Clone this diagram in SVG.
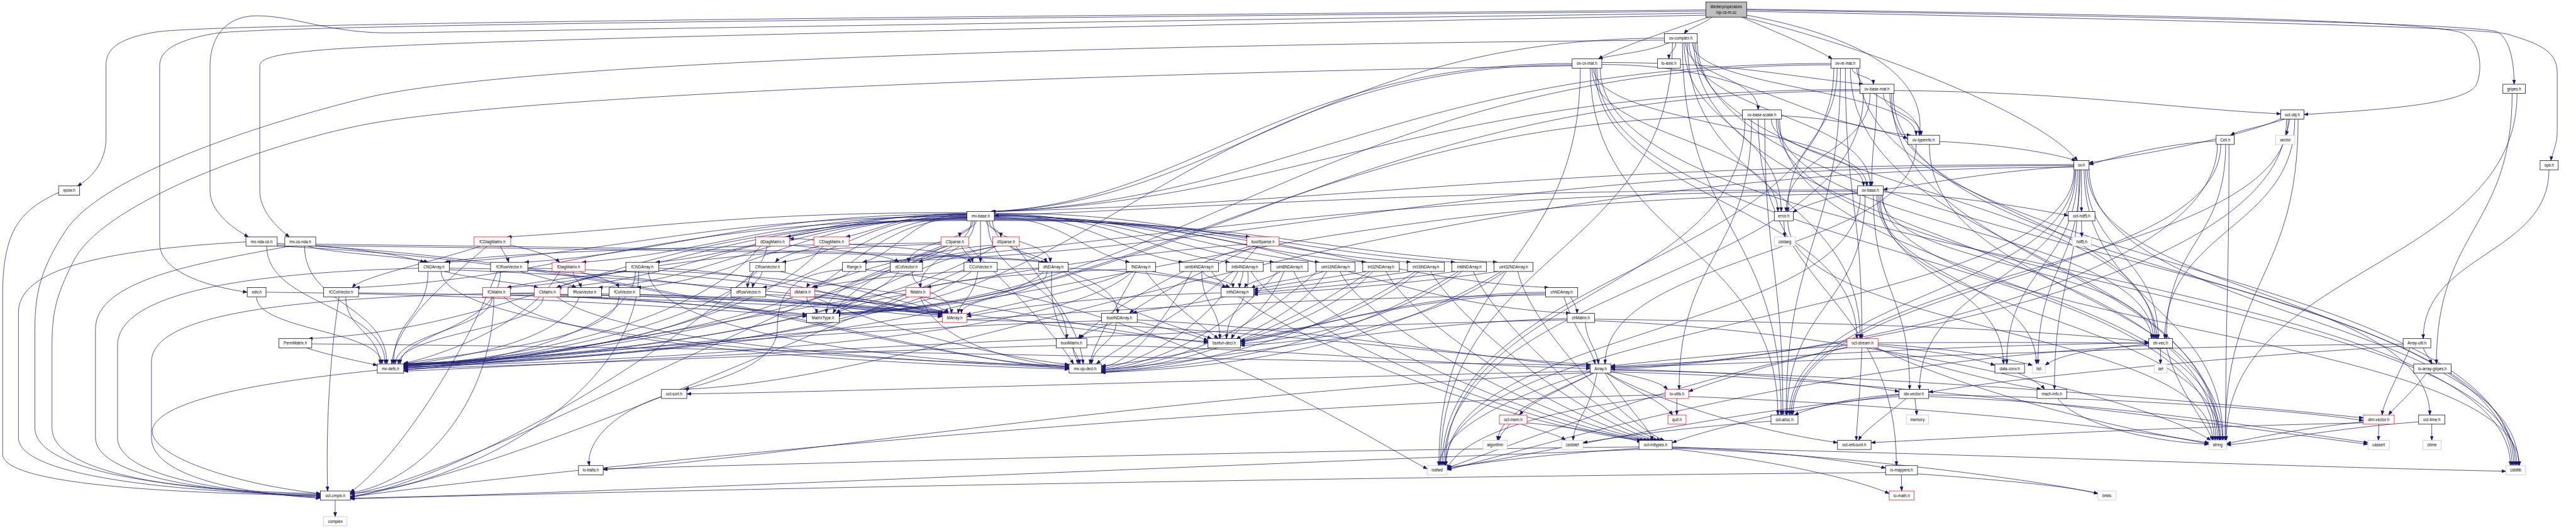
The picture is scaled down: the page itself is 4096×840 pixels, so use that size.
<svg xmlns="http://www.w3.org/2000/svg" width="4096" height="840" viewBox="0 0 4096 840">
<defs>
<style>
.e path{fill:none;stroke:#191970;stroke-width:1.4;marker-end:url(#ah)}
.n rect{fill:#fff;stroke:#000;stroke-width:1.4}
.r rect{stroke:#ff0000}
.g rect{stroke:#bfbfbf}
.root rect{fill:#bfbfbf}
text{font-family:"Liberation Sans",Arial,Helvetica,sans-serif;font-size:12px;text-anchor:middle;fill:#000}
</style>
<marker id="ah" markerUnits="userSpaceOnUse" markerWidth="13" markerHeight="10" viewBox="0 0 13 10" refX="13" refY="5" orient="auto"><path d="M0,0 L13,5 L0,10 z" fill="#191970" stroke="#191970"/></marker>
</defs>
<rect width="4096" height="840" fill="#fff"/>
<g transform="scale(0.523517)">
<g id="connectors" class="e">
<path d="M5181,30 C3000,50 600,70 470,98 C340,120 322,160 322,200 L322,420 C322,490 280,540 235,565"/>
<path d="M5181,34 C3000,55 800,75 650,102 C520,125 485,160 485,200 L485,740 C485,800 560,860 751,888"/>
<path d="M5181,40 C3000,70 1500,95 1200,100 C1000,103 900,48 780,48 C680,48 638,120 638,200 L638,580 C638,640 700,690 755,720"/>
<path d="M5181,46 C3500,80 1500,115 1000,150 C850,162 789,175 789,200 L789,580 C789,640 840,690 879,720"/>
<path d="M5200,52 C5170,75 5130,85 5115,102"/>
<path d="M5190,52 C5050,100 4900,150 4855,179"/>
<path d="M5290,52 C5400,100 5520,150 5565,179"/>
<path d="M5300,45 C5700,120 5850,250 5830,411"/>
<path d="M5295,52 C5700,150 6200,350 6310,488"/>
<path d="M5305,30 C6500,50 7450,70 7580,95 C7620,110 7636,180 7636,256"/>
<path d="M5305,28 C6500,45 7350,60 7480,100 C7540,130 7540,220 7520,260 C7480,320 7200,335 6998,348"/>
<path d="M5305,34 C6500,60 7550,80 7620,105 C7700,130 7767,150 7767,220 L7767,400 C7767,440 7750,470 7748,488"/>
<path d="M5090,130 C5090,155 5069,155 5069,179"/>
<path d="M5070,130 C5000,160 4900,165 4855,179"/>
<path d="M5055,116 C4032,116 3726,613 3010,643"/>
<path d="M5130,130 C5130,347 5681,347 5681,565"/>
<path d="M5120,130 C5120,232 5340,232 5340,334"/>
<path d="M5140,130 C5140,270 5820,270 5820,411"/>
<path d="M5110,130 C5110,695 5410,695 5410,1261"/>
<path d="M5150,130 C5150,580 6550,580 6550,1029"/>
<path d="M5115,130 C5115,386 5410,386 5410,643"/>
<path d="M5125,130 C5125,580 5650,580 5650,1029"/>
<path d="M5080,130 C5080,772 4375,772 4375,1415"/>
<path d="M5145,130 C5145,734 6730,734 6730,1338"/>
<path d="M5155,125 C5155,772 7630,772 7630,1415"/>
<path d="M5055,122 C3000,140 1500,200 1100,300 C700,400 300,550 200,700 C120,820 106,900 106,1000 L106,1300 C106,1430 500,1490 973,1500"/>
<path d="M4775,193 C3892,193 3628,613 3010,643"/>
<path d="M4775,197 C3657,197 3322,922 2539,952"/>
<path d="M4865,190 C5262,190 5381,226 5659,256"/>
<path d="M4840,207 C4840,386 5670,386 5670,565"/>
<path d="M4865,196 C5334,196 5475,381 5804,411"/>
<path d="M4830,207 C4830,734 5400,734 5400,1261"/>
<path d="M4835,207 C4835,425 5400,425 5400,643"/>
<path d="M4845,207 C4845,618 5640,618 5640,1029"/>
<path d="M4800,207 C4800,811 4370,811 4370,1415"/>
<path d="M4850,207 C4850,772 6725,772 6725,1338"/>
<path d="M4860,207 C4860,811 7625,811 7625,1415"/>
<path d="M4775,200 C3000,230 1500,300 1100,380 C800,440 300,620 220,800 C170,900 158,950 158,1050 L158,1300 C158,1440 550,1495 973,1503"/>
<path d="M5625,207 C5625,232 5690,232 5690,256"/>
<path d="M5640,207 C5640,309 5830,309 5830,411"/>
<path d="M5561,193 C4286,193 3903,613 3010,643"/>
<path d="M5561,197 C4050,197 3597,922 2539,952"/>
<path d="M5590,207 C5590,734 5425,734 5425,1261"/>
<path d="M5580,207 C5580,425 5430,425 5430,643"/>
<path d="M5605,207 C5605,618 5655,618 5655,1029"/>
<path d="M5570,207 C5570,811 4380,811 4380,1415"/>
<path d="M5620,207 C5620,772 6735,772 6735,1338"/>
<path d="M5645,207 C5645,811 7635,811 7635,1415"/>
<path d="M5720,284 C5720,347 5835,347 5835,411"/>
<path d="M5700,284 C5700,424 5685,424 5685,565"/>
<path d="M5680,284 C5680,463 5425,463 5425,643"/>
<path d="M5753,275 C6300,280 6600,330 6927,346"/>
<path d="M5649,272 C4330,272 3934,613 3010,643"/>
<path d="M5649,276 C4100,276 3600,922 2539,952"/>
<path d="M5740,284 C5740,656 6545,656 6545,1029"/>
<path d="M5660,284 C5660,850 4385,850 4385,1415"/>
<path d="M5745,284 C5745,811 6740,811 6740,1338"/>
<path d="M5750,284 C5750,850 7640,850 7640,1415"/>
<path d="M5411,352 C5600,360 5700,395 5794,420"/>
<path d="M5380,362 C5380,463 5660,463 5660,565"/>
<path d="M5340,362 C5340,888 5760,888 5760,1415"/>
<path d="M5320,362 C5320,772 5100,772 5100,1183"/>
<path d="M5360,362 C5360,811 5415,811 5415,1261"/>
<path d="M5400,362 C5400,695 6540,695 6540,1029"/>
<path d="M5292,352 C4000,360 3500,922 2539,955"/>
<path d="M5300,362 C5300,888 4390,888 4390,1415"/>
<path d="M5405,362 C5405,850 6745,850 6745,1338"/>
<path d="M5395,362 C5395,888 7645,888 7645,1415"/>
<path d="M5891,430 C6100,440 6250,470 6305,488"/>
<path d="M5820,439 C5820,772 4875,772 4875,1106"/>
<path d="M5860,439 C5860,888 6750,888 6750,1338"/>
<path d="M6299,505 C6050,520 5850,560 5720,576"/>
<path d="M6322,516 C6322,580 6322,580 6322,643"/>
<path d="M6299,500 C4655,500 4161,613 3010,643"/>
<path d="M6299,503 C4450,503 3850,767 2620,797"/>
<path d="M6310,516 C6310,811 6095,811 6095,1106"/>
<path d="M6305,516 C6305,850 5830,850 5830,1183"/>
<path d="M6315,516 C6315,850 6240,850 6240,1183"/>
<path d="M6302,516 C6302,888 5435,888 5435,1261"/>
<path d="M6340,516 C6340,888 7380,888 7380,1261"/>
<path d="M6335,516 C6335,772 6555,772 6555,1029"/>
<path d="M6318,516 C6318,811 6190,811 6190,1106"/>
<path d="M6299,508 C4200,508 2900,1153 2076,1183"/>
<path d="M6300,516 C6300,965 4390,965 4390,1415"/>
<path d="M6330,516 C6330,927 6752,927 6752,1338"/>
<path d="M6345,512 C6345,965 7650,965 7650,1415"/>
<path d="M5642,585 C5550,600 5480,625 5445,645"/>
<path d="M5720,583 C6000,600 6200,640 6282,655"/>
<path d="M5642,581 C4100,581 3300,767 2620,797"/>
<path d="M5642,577 C4300,577 3700,630 3020,655"/>
<path d="M5642,589 C4000,600 3300,922 2539,958"/>
<path d="M5710,593 C5710,850 6085,850 6085,1106"/>
<path d="M5690,593 C5690,888 5800,888 5800,1183"/>
<path d="M5715,593 C5715,811 6535,811 6535,1029"/>
<path d="M5705,593 C5705,850 6185,850 6185,1106"/>
<path d="M5665,593 C5665,927 5428,927 5428,1261"/>
<path d="M5650,593 C5650,1004 4392,1004 4392,1415"/>
<path d="M5700,593 C5700,965 6742,965 6742,1338"/>
<path d="M5718,593 C5718,1004 7652,1004 7652,1415"/>
<path d="M5418,671 L5421,720"/>
<path d="M5430,671 C5430,1004 6720,1004 6720,1338"/>
<path d="M6322,671 L6323,720"/>
<path d="M6940,362 C6870,385 6800,395 6775,411"/>
<path d="M6955,362 L6944,411"/>
<path d="M6930,360 C6800,420 6500,470 6345,495"/>
<path d="M6970,362 C6970,695 6575,695 6575,1029"/>
<path d="M6950,362 C6950,811 5440,811 5440,1261"/>
<path d="M6945,362 C6945,900 5300,1110 4893,1118"/>
<path d="M6980,362 C6980,850 6758,850 6758,1338"/>
<path d="M6731,428 C6550,440 6420,480 6345,500"/>
<path d="M6735,439 C6735,900 5300,1115 4893,1122"/>
<path d="M6745,439 C6745,850 5445,850 5445,1261"/>
<path d="M6760,439 C6760,734 6580,734 6580,1029"/>
<path d="M6770,439 C6770,888 6760,888 6760,1338"/>
<path d="M7630,284 C7630,695 7400,695 7400,1106"/>
<path d="M7645,284 C7645,811 6762,811 6762,1338"/>
<path d="M7742,516 C7742,772 7360,772 7360,1029"/>
<path d="M178,585 C60,640 8,700 8,900 L8,1380 C8,1480 600,1500 973,1506"/>
<path d="M779,902 C779,1004 1160,1004 1160,1106"/>
<path d="M808,888 C1500,895 2100,935 2450,962"/>
<path d="M842,740 C1050,750 1200,770 1290,797"/>
<path d="M842,745 C2000,760 2900,770 3175,797"/>
<path d="M747,735 C300,760 56,820 56,950 L56,1330 C56,1450 550,1495 973,1506"/>
<path d="M842,748 C2000,800 2700,1090 3247,1115"/>
<path d="M810,748 C810,927 1170,927 1170,1106"/>
<path d="M935,748 C1000,770 1250,780 1300,797"/>
<path d="M959,742 C2000,755 2950,765 3185,797"/>
<path d="M880,748 C600,800 290,850 290,1000 L290,1330 C290,1440 600,1495 973,1509"/>
<path d="M959,748 C2000,810 2800,1095 3247,1120"/>
<path d="M925,748 C925,927 1175,927 1175,1106"/>
<path d="M2950,671 C2950,811 2510,811 2510,952"/>
<path d="M2937,662 C2687,662 2560,844 2465,874"/>
<path d="M2960,671 C2960,772 2795,772 2795,874"/>
<path d="M2937,664 C2315,664 2128,844 1692,874"/>
<path d="M2937,666 C2239,666 2029,844 1540,874"/>
<path d="M3000,671 C3000,850 3240,850 3240,1029"/>
<path d="M3020,664 C3895,664 4158,922 4770,952"/>
<path d="M2955,671 C2955,734 2760,734 2760,797"/>
<path d="M2937,660 C2436,660 2285,844 1934,874"/>
<path d="M2978,671 L2978,797"/>
<path d="M2937,668 C2008,668 1729,844 1079,874"/>
<path d="M2937,660 C2627,660 2533,844 2316,874"/>
<path d="M2937,662 C2377,662 2209,844 1817,874"/>
<path d="M2937,654 C2656,654 2572,767 2375,797"/>
<path d="M2937,650 C2265,650 2063,767 1593,797"/>
<path d="M2937,652 C2663,652 2580,690 2388,720"/>
<path d="M2937,656 C2352,656 2176,767 1767,797"/>
<path d="M2937,648 C2753,648 2698,690 2569,720"/>
<path d="M2937,646 C2239,646 2030,690 1541,720"/>
<path d="M2937,670 C1917,670 1611,999 937,1029"/>
<path d="M3005,671 C3005,734 3190,734 3190,797"/>
<path d="M3020,660 C3225,660 3287,767 3431,797"/>
<path d="M2937,658 C2146,658 1909,767 1355,797"/>
<path d="M2937,652 C2464,652 2322,767 1991,797"/>
<path d="M3015,671 C3015,811 3395,811 3395,952"/>
<path d="M3020,662 C3862,662 4115,844 4704,874"/>
<path d="M3020,652 C3306,652 3393,767 3593,797"/>
<path d="M3020,650 C3377,650 3485,767 3735,797"/>
<path d="M3020,654 C3445,654 3572,767 3870,797"/>
<path d="M3020,656 C3513,656 3662,767 4007,797"/>
<path d="M3020,658 C3584,658 3754,767 4149,797"/>
<path d="M3020,666 C3652,666 3842,767 4285,797"/>
<path d="M3020,668 C3720,668 3930,767 4420,797"/>
<path d="M3020,670 C3784,670 4013,767 4548,797"/>
<path d="M3020,648 C3408,648 3525,690 3797,720"/>
<path d="M2995,671 C2995,695 3040,695 3040,720"/>
<path d="M2965,671 C2965,695 2915,695 2915,720"/>
<path d="M2937,650 C2778,650 2731,767 2620,797"/>
<path d="M1365,815 C2100,820 2500,950 2862,962"/>
<path d="M1350,825 C1450,850 1580,860 1635,874"/>
<path d="M1300,825 C1300,965 1195,965 1195,1106"/>
<path d="M1340,825 C1340,1000 2500,1100 3247,1110"/>
<path d="M1365,820 C2500,860 3200,1010 3669,1038"/>
<path d="M1271,815 C700,830 357,900 357,1050 L357,1330 C357,1440 650,1495 973,1512"/>
<path d="M2001,815 C2400,830 2650,945 2862,958"/>
<path d="M1910,825 C1750,840 1600,860 1540,874"/>
<path d="M1930,825 C1930,1000 1500,1110 1226,1118"/>
<path d="M1970,825 C1970,1000 2700,1100 3247,1114"/>
<path d="M2001,822 C2800,860 3300,1010 3669,1041"/>
<path d="M1940,825 C1940,1200 1400,1480 1064,1500"/>
<path d="M3244,815 C3500,825 3650,850 3725,874"/>
<path d="M3180,825 C3180,900 2920,900 2920,952"/>
<path d="M3155,815 C2800,825 2600,850 2470,874"/>
<path d="M3170,825 C3000,1000 1700,1100 1226,1116"/>
<path d="M3195,825 C3180,1000 3270,1050 3280,1106"/>
<path d="M3230,825 C3400,950 3600,1000 3680,1029"/>
<path d="M3500,825 C3600,845 3700,855 3735,874"/>
<path d="M3430,825 C3300,880 3050,930 2935,956"/>
<path d="M3421,818 C3100,830 2900,850 2815,874"/>
<path d="M3440,825 C3200,1050 1800,1100 1226,1114"/>
<path d="M3450,825 C3380,950 3320,1050 3310,1106"/>
<path d="M3480,825 C3550,920 3650,990 3700,1029"/>
<path d="M3655,825 C3655,850 3745,850 3745,874"/>
<path d="M3620,825 C3550,950 3450,1100 3345,1116"/>
<path d="M3680,825 C3800,1000 4600,1300 4985,1338"/>
<path d="M3650,825 C3650,930 3705,930 3705,1029"/>
<path d="M3775,825 C3775,850 3765,850 3765,874"/>
<path d="M3760,825 C3700,950 3500,1100 3345,1120"/>
<path d="M3800,825 C3900,1000 4650,1300 4995,1338"/>
<path d="M3790,825 C3800,930 3730,930 3725,1029"/>
<path d="M3890,825 C3850,850 3790,855 3780,874"/>
<path d="M3880,825 C3750,980 3550,1100 3345,1124"/>
<path d="M3930,825 C4000,1000 4700,1300 5005,1338"/>
<path d="M3900,825 C3850,950 3760,990 3740,1029"/>
<path d="M4020,825 C3950,850 3830,860 3800,876"/>
<path d="M4000,825 C3800,1000 3600,1100 3345,1127"/>
<path d="M4070,825 C4150,1000 4750,1300 5015,1338"/>
<path d="M4030,825 C3950,950 3800,1000 3755,1031"/>
<path d="M4150,825 C4000,850 3850,870 3808,880"/>
<path d="M4160,825 C3900,1000 3650,1100 3345,1130"/>
<path d="M4210,825 C4300,1000 4800,1300 5025,1338"/>
<path d="M4170,825 C4050,950 3850,1010 3768,1036"/>
<path d="M4290,825 C4100,850 3900,875 3808,885"/>
<path d="M4300,825 C4000,1020 3700,1100 3345,1133"/>
<path d="M4345,825 C4450,1000 4850,1300 5035,1338"/>
<path d="M4310,825 C4150,960 3900,1020 3768,1040"/>
<path d="M4420,825 C4200,855 3950,880 3808,890"/>
<path d="M4430,825 C4100,1030 3750,1110 3345,1130"/>
<path d="M4475,825 C4550,1000 4900,1300 5045,1338"/>
<path d="M4440,825 C4250,970 3950,1030 3768,1045"/>
<path d="M4550,825 C4300,860 4000,885 3808,895"/>
<path d="M4560,825 C4200,1040 3800,1115 3345,1132"/>
<path d="M4610,825 C4650,1000 4950,1300 5055,1338"/>
<path d="M4570,825 C4350,980 4000,1040 3768,1050"/>
<path d="M3709,890 C3300,900 3050,940 2937,962"/>
<path d="M3720,902 C3600,930 3480,940 3440,952"/>
<path d="M3454,972 C4000,1000 4500,1090 4830,1115"/>
<path d="M3346,975 C2500,1000 1600,1090 1226,1112"/>
<path d="M3390,980 C3390,1040 3320,1050 3315,1106"/>
<path d="M3380,980 C3340,1000 3290,1010 3275,1029"/>
<path d="M3454,978 C3550,1000 3620,1015 3669,1035"/>
<path d="M3301,1048 C3900,1060 4400,1110 4830,1120"/>
<path d="M3208,1050 C2500,1070 1700,1110 1226,1120"/>
<path d="M3260,1057 C3260,1080 3270,1085 3275,1106"/>
<path d="M4750,902 C4780,1000 4830,1050 4845,1106"/>
<path d="M4770,902 C4780,920 4790,935 4790,952"/>
<path d="M4694,896 C3000,920 1800,1080 1226,1125"/>
<path d="M4694,892 C4200,900 3700,1080 3345,1112"/>
<path d="M4694,888 C4300,890 3950,1010 3768,1038"/>
<path d="M4815,980 C4820,1040 4850,1060 4855,1106"/>
<path d="M4760,972 C3500,1000 1900,1100 1226,1128"/>
<path d="M4760,968 C4200,980 3700,1100 3345,1123"/>
<path d="M4843,970 C5600,980 6200,1000 6526,1040"/>
<path d="M4843,975 C5600,1000 6500,1200 6715,1338"/>
<path d="M2475,895 C2650,910 2800,935 2870,952"/>
<path d="M2450,902 C2450,930 2480,930 2480,952"/>
<path d="M2410,902 C2200,1000 1600,1090 1226,1108"/>
<path d="M2470,902 C2700,1000 3000,1080 3247,1108"/>
<path d="M2800,902 C2820,930 2870,935 2880,952"/>
<path d="M2751,895 C2650,910 2560,940 2540,952"/>
<path d="M2760,902 C2400,1050 1700,1100 1226,1110"/>
<path d="M2795,902 C2850,1050 3100,1100 3247,1116"/>
<path d="M1702,895 C2300,905 2700,940 2862,958"/>
<path d="M1702,898 C2000,910 2300,945 2450,958"/>
<path d="M1650,902 C1650,1000 1215,1010 1210,1106"/>
<path d="M1690,902 C1900,1050 2800,1100 3247,1118"/>
<path d="M1623,890 C900,900 460,950 460,1100 L460,1330 C460,1440 700,1497 973,1514"/>
<path d="M1550,892 C2200,900 2700,935 2862,954"/>
<path d="M1550,896 C1900,905 2300,940 2450,955"/>
<path d="M1495,902 C1495,1000 1205,1010 1200,1106"/>
<path d="M1530,902 C1700,1060 2700,1105 3247,1122"/>
<path d="M1500,902 C1500,1200 1300,1460 1064,1498"/>
<path d="M2770,825 C2770,890 2890,890 2890,952"/>
<path d="M2730,825 C2600,1000 1700,1090 1226,1106"/>
<path d="M1944,895 C2400,905 2750,940 2862,950"/>
<path d="M1880,902 C1880,1050 1300,1080 1226,1108"/>
<path d="M2970,825 C2960,900 2915,920 2910,952"/>
<path d="M2950,825 C2700,1020 1800,1095 1226,1108"/>
<path d="M2928,820 C2500,1000 1500,1450 1064,1508"/>
<path d="M1089,890 C2000,900 2600,940 2862,952"/>
<path d="M1050,902 C1050,1000 1150,1010 1155,1106"/>
<path d="M1030,902 C1000,1100 990,1300 995,1492"/>
<path d="M2326,895 C2600,905 2800,940 2862,955"/>
<path d="M2250,902 C2000,1050 1500,1100 1226,1112"/>
<path d="M1827,893 C2300,903 2700,938 2862,953"/>
<path d="M1760,902 C1700,1050 1350,1090 1226,1110"/>
<path d="M2315,825 C2310,850 2290,855 2285,874"/>
<path d="M2370,825 C2600,880 2800,930 2880,952"/>
<path d="M2300,825 C2100,1000 1600,1090 1226,1114"/>
<path d="M2290,825 C2000,1100 1400,1450 1064,1512"/>
<path d="M1580,825 C1650,845 1720,860 1750,874"/>
<path d="M1603,815 C2300,825 2700,930 2870,952"/>
<path d="M1520,825 C1520,1000 1220,1010 1215,1106"/>
<path d="M1510,825 C1400,1100 1200,1400 1064,1496"/>
<path d="M2330,748 C2320,810 2275,820 2270,874"/>
<path d="M2398,745 C2550,760 2700,775 2730,797"/>
<path d="M2310,748 C2100,1000 1500,1100 1226,1110"/>
<path d="M1740,825 C1745,850 1760,855 1765,874"/>
<path d="M1760,825 C1820,845 1870,855 1880,874"/>
<path d="M1700,825 C1600,1000 1300,1090 1226,1104"/>
<path d="M2490,748 C2420,765 2370,780 2355,797"/>
<path d="M2579,742 C2800,755 2920,770 2950,797"/>
<path d="M2472,730 C2440,725 2420,725 2398,726"/>
<path d="M2500,748 C2300,1000 1600,1100 1226,1118"/>
<path d="M1520,748 C1530,770 1540,780 1545,797"/>
<path d="M1460,748 C1300,800 1100,840 1070,874"/>
<path d="M1551,745 C1620,760 1680,780 1700,797"/>
<path d="M1480,748 C1300,900 1200,1000 1190,1106"/>
<path d="M947,1045 C2500,1060 4000,1100 4830,1110"/>
<path d="M930,1057 C1000,1080 1100,1100 1146,1110"/>
<path d="M2580,825 C2570,850 2460,855 2450,874"/>
<path d="M2559,820 C2400,830 2361,900 2361,1000 C2361,1100 2200,1150 2080,1183"/>
<path d="M2630,820 C3500,900 4100,1300 4335,1425"/>
<path d="M3015,745 C2800,760 2550,840 2470,874"/>
<path d="M3070,748 C3100,770 3170,780 3180,797"/>
<path d="M3030,748 C2950,765 2830,780 2790,797"/>
<path d="M3020,748 C2800,800 2600,900 2540,952"/>
<path d="M3025,748 C2600,1000 1700,1100 1226,1106"/>
<path d="M3085,748 C3200,900 3280,1000 3290,1106"/>
<path d="M2858,742 C2200,760 1800,830 1690,874"/>
<path d="M2858,738 C2000,750 1500,770 1350,797"/>
<path d="M2920,748 C2930,770 2950,780 2955,797"/>
<path d="M2880,748 C2700,800 2560,900 2530,952"/>
<path d="M2870,748 C2400,1000 1600,1100 1226,1104"/>
<path d="M2860,748 C2200,1000 1400,1450 1064,1502"/>
<path d="M2940,748 C3100,900 3230,1050 3260,1106"/>
<path d="M3800,748 C3600,800 3350,950 3280,1029"/>
<path d="M3810,748 C3700,800 3500,900 3430,952"/>
<path d="M3787,742 C3000,800 1800,1080 1226,1124"/>
<path d="M3820,748 C3700,900 3400,1050 3330,1106"/>
<path d="M2937,972 C3800,990 4500,1090 4830,1108"/>
<path d="M1146,1125 C900,1150 500,1200 464,1300 C440,1380 700,1470 973,1500"/>
<path d="M4893,1130 C5800,1150 6800,1300 7192,1350"/>
<path d="M4850,1134 C4830,1250 4780,1280 4778,1338"/>
<path d="M4840,1134 C4700,1200 4560,1250 4548,1338"/>
<path d="M4830,1130 C4600,1200 4380,1300 4370,1415"/>
<path d="M4893,1125 C5800,1140 6800,1230 7178,1270"/>
<path d="M4893,1122 C5300,1130 5600,1160 5768,1190"/>
<path d="M4830,1132 C3500,1200 2300,1400 1832,1427"/>
<path d="M4893,1130 C4980,1145 5040,1160 5065,1183"/>
<path d="M4830,1128 C3800,1150 2600,1190 2086,1197"/>
<path d="M4880,1134 C4950,1180 5050,1220 5080,1261"/>
<path d="M4840,1134 C4750,1180 4650,1220 4615,1261"/>
<path d="M4880,1134 C5100,1250 5400,1320 5581,1345"/>
<path d="M4875,1134 C4950,1250 5010,1300 5020,1338"/>
<path d="M2009,1205 C1850,1260 1780,1350 1790,1415"/>
<path d="M5093,1211 L5093,1261"/>
<path d="M5058,1200 C3500,1230 1500,1450 1064,1510"/>
<path d="M5058,1205 C4800,1230 4450,1300 4395,1425"/>
<path d="M5129,1205 C5800,1230 6500,1300 6709,1350"/>
<path d="M4620,1289 C4680,1310 4730,1320 4755,1338"/>
<path d="M4585,1289 C4570,1310 4555,1320 4552,1338"/>
<path d="M4638,1285 C4800,1300 4950,1330 4985,1345"/>
<path d="M5079,1360 C6000,1380 7000,1420 7611,1432"/>
<path d="M5079,1362 C5600,1380 6200,1460 6372,1500"/>
<path d="M4978,1362 C4700,1380 4450,1410 4395,1425"/>
<path d="M4978,1358 C3800,1370 2400,1410 1832,1425"/>
<path d="M5079,1364 C5400,1400 5650,1460 5738,1500"/>
<path d="M4978,1366 C3500,1420 1800,1500 1064,1514"/>
<path d="M5079,1358 C5400,1370 5600,1400 5727,1422"/>
<path d="M5858,1205 C6500,1230 7000,1320 7192,1345"/>
<path d="M5768,1205 C5200,1250 4600,1400 4395,1420"/>
<path d="M5816,1211 L5822,1261"/>
<path d="M5858,1200 C6500,1210 7000,1250 7178,1278"/>
<path d="M5768,1200 C5500,1230 5200,1300 5079,1345"/>
<path d="M5768,1198 C5600,1210 5500,1240 5450,1261"/>
<path d="M5790,1211 C5720,1270 5660,1310 5645,1338"/>
<path d="M6130,1134 C6170,1150 6200,1170 6210,1183"/>
<path d="M6250,1211 C6300,1280 6500,1340 6709,1350"/>
<path d="M5775,1443 L5776,1492"/>
<path d="M5824,1440 C6100,1460 6300,1480 6372,1500"/>
<path d="M5727,1436 C4000,1450 2000,1490 1064,1516"/>
<path d="M7225,1289 L7224,1338"/>
<path d="M7178,1282 C7000,1300 6850,1330 6763,1348"/>
<path d="M7178,1285 C6500,1300 6000,1330 5683,1345"/>
<path d="M7386,1289 L7386,1338"/>
<path d="M7346,1282 C7100,1300 6900,1340 6763,1352"/>
<path d="M6562,1057 L6562,1106"/>
<path d="M6580,1057 C6620,1200 6700,1280 6720,1338"/>
<path d="M6526,1050 C5500,1100 4700,1350 4395,1428"/>
<path d="M6526,1046 C6350,1060 6250,1080 6212,1110"/>
<path d="M6526,1042 C5800,1050 5200,1100 4893,1114"/>
<path d="M7299,1046 C6500,1050 5500,1100 4893,1116"/>
<path d="M7320,1057 C7280,1150 7240,1220 7235,1261"/>
<path d="M7299,1052 C6800,1080 6100,1150 5858,1192"/>
<path d="M7360,1057 C7370,1080 7380,1090 7385,1106"/>
<path d="M7370,1134 C7320,1200 7270,1240 7255,1261"/>
<path d="M5704,1050 C5900,1070 6000,1090 6059,1110"/>
<path d="M5704,1046 C5950,1060 6100,1090 6173,1110"/>
<path d="M5690,1057 C5900,1120 6100,1170 6200,1183"/>
<path d="M5655,1057 C5650,1200 5640,1280 5638,1338"/>
<path d="M5610,1055 C5400,1100 5200,1160 5129,1190"/>
<path d="M5610,1050 C5300,1070 5000,1100 4893,1112"/>
<path d="M5704,1042 C6000,1040 6300,1040 6526,1043"/>
<path d="M5610,1057 C5100,1150 4600,1350 4395,1422"/>
<path d="M5700,1057 C6000,1200 6500,1320 6709,1345"/>
<path d="M1018,1520 L1018,1570"/>
<path d="M5379,1280 C5100,1300 4900,1330 4808,1345"/>
</g>
<g id="n-root" class="n root"><rect x="5181" y="6" width="124" height="46"/><text x="5243" y="24">libinterp/operators</text><text x="5243" y="42">/op-cs-m.cc</text></g>
<g id="n-ov-complex.h" class="n"><rect x="5055" y="102" width="100" height="28"/><text x="5105" y="120.5">ov-complex.h</text></g>
<g id="n-ov-cx-mat.h" class="n"><rect x="4775" y="179" width="90" height="28"/><text x="4820" y="197.5">ov-cx-mat.h</text></g>
<g id="n-lo-ieee.h" class="n"><rect x="5034" y="179" width="70" height="28"/><text x="5069" y="197.5">lo-ieee.h</text></g>
<g id="n-ov-re-mat.h" class="n"><rect x="5561" y="179" width="88" height="28"/><text x="5605" y="197.5">ov-re-mat.h</text></g>
<g id="n-ov-base-mat.h" class="n"><rect x="5649" y="256" width="104" height="28"/><text x="5701" y="274.5">ov-base-mat.h</text></g>
<g id="n-gripes.h" class="n"><rect x="7602" y="256" width="68" height="28"/><text x="7636" y="274.5">gripes.h</text></g>
<g id="n-ov-base-scalar.h" class="n"><rect x="5292" y="334" width="119" height="28"/><text x="5351.5" y="352.5">ov-base-scalar.h</text></g>
<g id="n-oct-obj.h" class="n"><rect x="6927" y="334" width="71" height="28"/><text x="6962.5" y="352.5">oct-obj.h</text></g>
<g id="n-ov-typeinfo.h" class="n"><rect x="5794" y="411" width="97" height="28"/><text x="5842.5" y="429.5">ov-typeinfo.h</text></g>
<g id="n-Cell.h" class="n"><rect x="6731" y="411" width="55" height="28"/><text x="6758.5" y="429.5">Cell.h</text></g>
<g id="n-vector" class="n g"><rect x="6912" y="411" width="58" height="28"/><text x="6941" y="429.5">vector</text></g>
<g id="n-ov.h" class="n"><rect x="6299" y="488" width="46" height="28"/><text x="6322" y="506.5">ov.h</text></g>
<g id="n-ops.h" class="n"><rect x="7715" y="488" width="55" height="28"/><text x="7742.5" y="506.5">ops.h</text></g>
<g id="n-xpow.h" class="n"><rect x="178" y="565" width="64" height="28"/><text x="210" y="583.5">xpow.h</text></g>
<g id="n-ov-base.h" class="n"><rect x="5642" y="565" width="78" height="28"/><text x="5681" y="583.5">ov-base.h</text></g>
<g id="n-mx-base.h" class="n"><rect x="2937" y="643" width="83" height="28"/><text x="2978.5" y="661.5">mx-base.h</text></g>
<g id="n-error.h" class="n"><rect x="5389" y="643" width="58" height="28"/><text x="5418" y="661.5">error.h</text></g>
<g id="n-oct-hdf5.h" class="n"><rect x="6282" y="643" width="81" height="28"/><text x="6322.5" y="661.5">oct-hdf5.h</text></g>
<g id="n-mx-nda-cs.h" class="n"><rect x="747" y="720" width="95" height="28"/><text x="794.5" y="738.5">mx-nda-cs.h</text></g>
<g id="n-mx-cs-nda.h" class="n"><rect x="865" y="720" width="94" height="28"/><text x="912" y="738.5">mx-cs-nda.h</text></g>
<g id="n-fCDiagMatrix.h" class="n r"><rect x="1440" y="720" width="111" height="28"/><text x="1495.5" y="738.5">fCDiagMatrix.h</text></g>
<g id="n-dDiagMatrix.h" class="n r"><rect x="2295" y="720" width="103" height="28"/><text x="2346.5" y="738.5">dDiagMatrix.h</text></g>
<g id="n-CDiagMatrix.h" class="n r"><rect x="2472" y="720" width="107" height="28"/><text x="2525.5" y="738.5">CDiagMatrix.h</text></g>
<g id="n-CSparse.h" class="n r"><rect x="2858" y="720" width="84" height="28"/><text x="2900" y="738.5">CSparse.h</text></g>
<g id="n-dSparse.h" class="n r"><rect x="3015" y="720" width="81" height="28"/><text x="3055.5" y="738.5">dSparse.h</text></g>
<g id="n-boolSparse.h" class="n r"><rect x="3787" y="720" width="98" height="28"/><text x="3836" y="738.5">boolSparse.h</text></g>
<g id="n-cstdarg" class="n g"><rect x="5389" y="720" width="64" height="28"/><text x="5421" y="738.5">cstdarg</text></g>
<g id="n-hdf5.h" class="n g"><rect x="6294" y="720" width="58" height="28"/><text x="6323" y="738.5">hdf5.h</text></g>
<g id="n-CNDArray.h" class="n"><rect x="1271" y="797" width="94" height="28"/><text x="1318" y="815.5">CNDArray.h</text></g>
<g id="n-fCRowVector.h" class="n"><rect x="1490" y="797" width="113" height="28"/><text x="1546.5" y="815.5">fCRowVector.h</text></g>
<g id="n-fDiagMatrix.h" class="n r"><rect x="1677" y="797" width="100" height="28"/><text x="1727" y="815.5">fDiagMatrix.h</text></g>
<g id="n-fCNDArray.h" class="n"><rect x="1901" y="797" width="100" height="28"/><text x="1951" y="815.5">fCNDArray.h</text></g>
<g id="n-CRowVector.h" class="n"><rect x="2277" y="797" width="108" height="28"/><text x="2331" y="815.5">CRowVector.h</text></g>
<g id="n-Range.h" class="n"><rect x="2559" y="797" width="71" height="28"/><text x="2594.5" y="815.5">Range.h</text></g>
<g id="n-dColVector.h" class="n"><rect x="2704" y="797" width="98" height="28"/><text x="2753" y="815.5">dColVector.h</text></g>
<g id="n-CColVector.h" class="n"><rect x="2928" y="797" width="101" height="28"/><text x="2978.5" y="815.5">CColVector.h</text></g>
<g id="n-dNDArray.h" class="n"><rect x="3155" y="797" width="89" height="28"/><text x="3199.5" y="815.5">dNDArray.h</text></g>
<g id="n-fNDArray.h" class="n"><rect x="3421" y="797" width="89" height="28"/><text x="3465.5" y="815.5">fNDArray.h</text></g>
<g id="n-uint64NDArray.h" class="n"><rect x="3583" y="797" width="118" height="28"/><text x="3642" y="815.5">uint64NDArray.h</text></g>
<g id="n-int64NDArray.h" class="n"><rect x="3725" y="797" width="112" height="28"/><text x="3781" y="815.5">int64NDArray.h</text></g>
<g id="n-uint8NDArray.h" class="n"><rect x="3860" y="797" width="113" height="28"/><text x="3916.5" y="815.5">uint8NDArray.h</text></g>
<g id="n-uint16NDArray.h" class="n"><rect x="3997" y="797" width="119" height="28"/><text x="4056.5" y="815.5">uint16NDArray.h</text></g>
<g id="n-int32NDArray.h" class="n"><rect x="4139" y="797" width="111" height="28"/><text x="4194.5" y="815.5">int32NDArray.h</text></g>
<g id="n-int16NDArray.h" class="n"><rect x="4275" y="797" width="112" height="28"/><text x="4331" y="815.5">int16NDArray.h</text></g>
<g id="n-int8NDArray.h" class="n"><rect x="4410" y="797" width="105" height="28"/><text x="4462.5" y="815.5">int8NDArray.h</text></g>
<g id="n-uint32NDArray.h" class="n"><rect x="4538" y="797" width="118" height="28"/><text x="4597" y="815.5">uint32NDArray.h</text></g>
<g id="n-xdiv.h" class="n"><rect x="751" y="874" width="57" height="28"/><text x="779.5" y="892.5">xdiv.h</text></g>
<g id="n-fCColVector.h" class="n"><rect x="983" y="874" width="106" height="28"/><text x="1036" y="892.5">fCColVector.h</text></g>
<g id="n-fCMatrix.h" class="n r"><rect x="1466" y="874" width="84" height="28"/><text x="1508" y="892.5">fCMatrix.h</text></g>
<g id="n-CMatrix.h" class="n r"><rect x="1623" y="874" width="79" height="28"/><text x="1662.5" y="892.5">CMatrix.h</text></g>
<g id="n-fRowVector.h" class="n"><rect x="1725" y="874" width="102" height="28"/><text x="1776" y="892.5">fRowVector.h</text></g>
<g id="n-fColVector.h" class="n"><rect x="1850" y="874" width="94" height="28"/><text x="1897" y="892.5">fColVector.h</text></g>
<g id="n-dRowVector.h" class="n"><rect x="2220" y="874" width="106" height="28"/><text x="2273" y="892.5">dRowVector.h</text></g>
<g id="n-dMatrix.h" class="n r"><rect x="2400" y="874" width="75" height="28"/><text x="2437.5" y="892.5">dMatrix.h</text></g>
<g id="n-fMatrix.h" class="n r"><rect x="2751" y="874" width="74" height="28"/><text x="2788" y="892.5">fMatrix.h</text></g>
<g id="n-intNDArray.h" class="n"><rect x="3709" y="874" width="99" height="28"/><text x="3758.5" y="892.5">intNDArray.h</text></g>
<g id="n-chNDArray.h" class="n"><rect x="4694" y="874" width="98" height="28"/><text x="4743" y="892.5">chNDArray.h</text></g>
<g id="n-MatrixType.h" class="n"><rect x="2450" y="952" width="99" height="28"/><text x="2499.5" y="970.5">MatrixType.h</text></g>
<g id="n-MArray.h" class="n r"><rect x="2862" y="952" width="75" height="28"/><text x="2899.5" y="970.5">MArray.h</text></g>
<g id="n-boolNDArray.h" class="n"><rect x="3346" y="952" width="108" height="28"/><text x="3400" y="970.5">boolNDArray.h</text></g>
<g id="n-chMatrix.h" class="n"><rect x="4760" y="952" width="83" height="28"/><text x="4801.5" y="970.5">chMatrix.h</text></g>
<g id="n-PermMatrix.h" class="n"><rect x="847" y="1029" width="100" height="28"/><text x="897" y="1047.5">PermMatrix.h</text></g>
<g id="n-boolMatrix.h" class="n"><rect x="3208" y="1029" width="93" height="28"/><text x="3254.5" y="1047.5">boolMatrix.h</text></g>
<g id="n-bsxfun-decl.h" class="n"><rect x="3669" y="1029" width="99" height="28"/><text x="3718.5" y="1047.5">bsxfun-decl.h</text></g>
<g id="n-oct-stream.h" class="n r"><rect x="5610" y="1029" width="94" height="28"/><text x="5657" y="1047.5">oct-stream.h</text></g>
<g id="n-str-vec.h" class="n"><rect x="6526" y="1029" width="73" height="28"/><text x="6562.5" y="1047.5">str-vec.h</text></g>
<g id="n-Array-util.h" class="n"><rect x="7299" y="1029" width="84" height="28"/><text x="7341" y="1047.5">Array-util.h</text></g>
<g id="n-mx-defs.h" class="n"><rect x="1146" y="1106" width="80" height="28"/><text x="1186" y="1124.5">mx-defs.h</text></g>
<g id="n-mx-op-decl.h" class="n"><rect x="3247" y="1106" width="98" height="28"/><text x="3296" y="1124.5">mx-op-decl.h</text></g>
<g id="n-Array.h" class="n"><rect x="4830" y="1106" width="63" height="28"/><text x="4861.5" y="1124.5">Array.h</text></g>
<g id="n-data-conv.h" class="n"><rect x="6059" y="1106" width="90" height="28"/><text x="6104" y="1124.5">data-conv.h</text></g>
<g id="n-list" class="n g"><rect x="6173" y="1106" width="39" height="28"/><text x="6192.5" y="1124.5">list</text></g>
<g id="n-set" class="n g"><rect x="6543" y="1106" width="39" height="28"/><text x="6562.5" y="1124.5">set</text></g>
<g id="n-lo-array-gripes.h" class="n"><rect x="7331" y="1106" width="114" height="28"/><text x="7388" y="1124.5">lo-array-gripes.h</text></g>
<g id="n-oct-sort.h" class="n"><rect x="2009" y="1183" width="77" height="28"/><text x="2047.5" y="1201.5">oct-sort.h</text></g>
<g id="n-lo-utils.h" class="n r"><rect x="5058" y="1183" width="71" height="28"/><text x="5093.5" y="1201.5">lo-utils.h</text></g>
<g id="n-idx-vector.h" class="n"><rect x="5768" y="1183" width="90" height="28"/><text x="5813" y="1201.5">idx-vector.h</text></g>
<g id="n-mach-info.h" class="n"><rect x="6187" y="1183" width="90" height="28"/><text x="6232" y="1201.5">mach-info.h</text></g>
<g id="n-oct-mem.h" class="n r"><rect x="4554" y="1261" width="84" height="28"/><text x="4596" y="1279.5">oct-mem.h</text></g>
<g id="n-quit.h" class="n r"><rect x="5066" y="1261" width="55" height="28"/><text x="5093.5" y="1279.5">quit.h</text></g>
<g id="n-oct-alloc.h" class="n"><rect x="5379" y="1261" width="82" height="28"/><text x="5420" y="1279.5">oct-alloc.h</text></g>
<g id="n-memory" class="n g"><rect x="5790" y="1261" width="68" height="28"/><text x="5824" y="1279.5">memory</text></g>
<g id="n-dim-vector.h" class="n r"><rect x="7178" y="1261" width="94" height="28"/><text x="7225" y="1279.5">dim-vector.h</text></g>
<g id="n-oct-time.h" class="n"><rect x="7346" y="1261" width="80" height="28"/><text x="7386" y="1279.5">oct-time.h</text></g>
<g id="n-algorithm" class="n g"><rect x="4504" y="1338" width="74" height="28"/><text x="4541" y="1356.5">algorithm</text></g>
<g id="n-cstddef" class="n g"><rect x="4743" y="1338" width="65" height="28"/><text x="4775.5" y="1356.5">cstddef</text></g>
<g id="n-oct-inttypes.h" class="n"><rect x="4978" y="1338" width="101" height="28"/><text x="5028.5" y="1356.5">oct-inttypes.h</text></g>
<g id="n-oct-refcount.h" class="n"><rect x="5581" y="1338" width="102" height="28"/><text x="5632" y="1356.5">oct-refcount.h</text></g>
<g id="n-string" class="n g"><rect x="6709" y="1338" width="54" height="28"/><text x="6736" y="1356.5">string</text></g>
<g id="n-cassert" class="n g"><rect x="7192" y="1338" width="65" height="28"/><text x="7224.5" y="1356.5">cassert</text></g>
<g id="n-ctime" class="n g"><rect x="7359" y="1338" width="55" height="28"/><text x="7386.5" y="1356.5">ctime</text></g>
<g id="n-lo-traits.h" class="n"><rect x="1757" y="1415" width="75" height="28"/><text x="1794.5" y="1433.5">lo-traits.h</text></g>
<g id="n-iosfwd" class="n g"><rect x="4335" y="1415" width="60" height="28"/><text x="4365" y="1433.5">iosfwd</text></g>
<g id="n-lo-mappers.h" class="n"><rect x="5727" y="1415" width="97" height="28"/><text x="5775.5" y="1433.5">lo-mappers.h</text></g>
<g id="n-cstdlib" class="n g"><rect x="7611" y="1415" width="60" height="28"/><text x="7641" y="1433.5">cstdlib</text></g>
<g id="n-oct-cmplx.h" class="n"><rect x="973" y="1492" width="91" height="28"/><text x="1018.5" y="1510.5">oct-cmplx.h</text></g>
<g id="n-lo-math.h" class="n r"><rect x="5738" y="1492" width="76" height="28"/><text x="5776" y="1510.5">lo-math.h</text></g>
<g id="n-limits" class="n g"><rect x="6372" y="1492" width="54" height="28"/><text x="6399" y="1510.5">limits</text></g>
<g id="n-complex" class="n g"><rect x="983" y="1570" width="71" height="28"/><text x="1018.5" y="1588.5">complex</text></g>
</g>
</svg>
